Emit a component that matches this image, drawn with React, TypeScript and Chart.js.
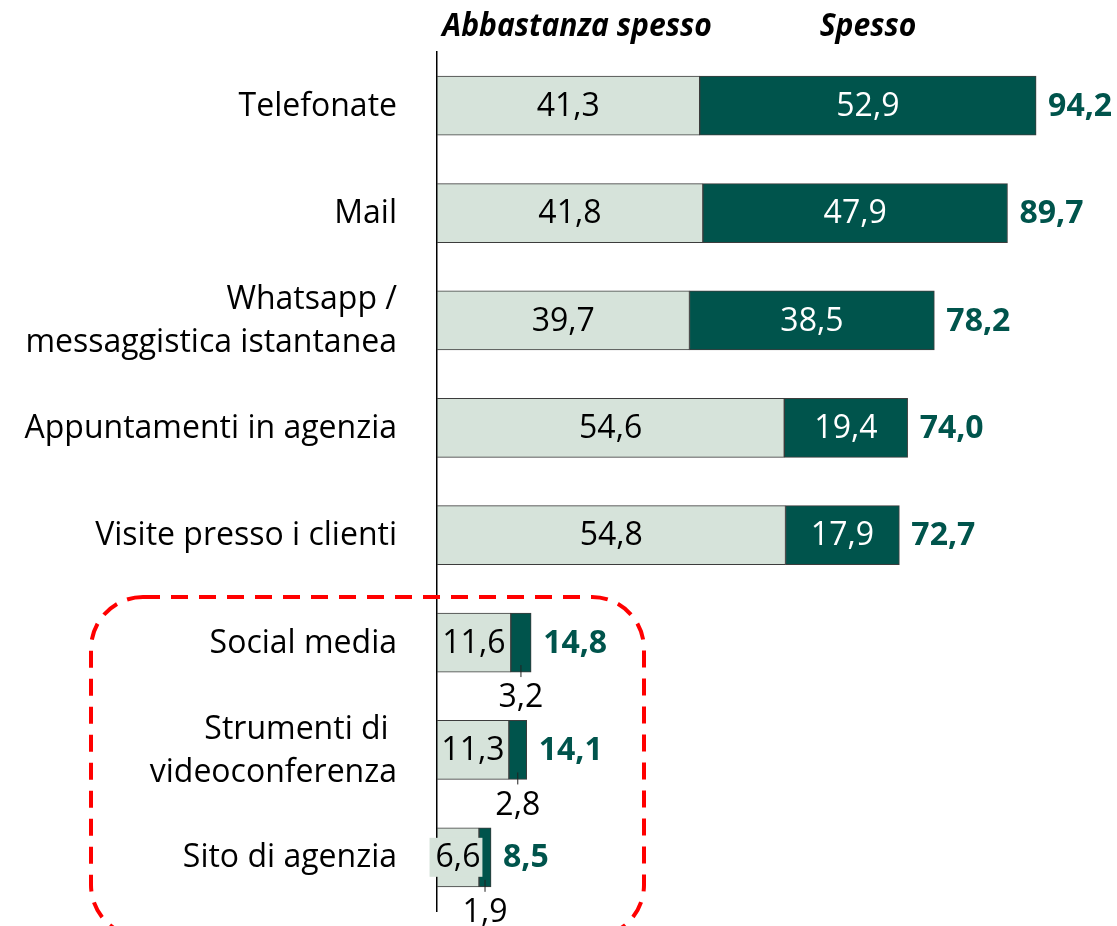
import { useEffect, useRef } from "react";
import { Chart, registerables } from "chart.js";

Chart.register(...registerables);

const categories: string[][] = [
  ["Telefonate"],
  ["Mail"],
  ["Whatsapp /", "messaggistica istantanea"],
  ["Appuntamenti in agenzia"],
  ["Visite presso i clienti"],
  ["Social media"],
  ["Strumenti di ", "videoconferenza"],
  ["Sito di agenzia"],
];
const seriesNames = ["Abbastanza spesso", "Spesso"];
const abbastanzaSpesso = [41.3, 41.8, 39.7, 54.6, 54.8, 11.6, 11.3, 6.6];
const spesso = [52.9, 47.9, 38.5, 19.4, 17.9, 3.2, 2.8, 1.9];
const totals = [94.2, 89.7, 78.2, 74.0, 72.7, 14.8, 14.1, 8.5];

const LIGHT = "#d6e3da";
const DARK = "#00544c";
const FONT = '"Open Sans", sans-serif';

const fmt = (v: number) => v.toFixed(1).replace(".", ",");

function drawScaled(ctx: CanvasRenderingContext2D, text: string, x: number, y: number, sx: number) {
  ctx.save();
  ctx.translate(x, y);
  ctx.scale(sx, 1);
  ctx.fillText(text, 0, 0);
  ctx.restore();
}

const labelPlugin = {
  id: "valueLabels",
  afterDatasetsDraw(chart: any) {
    const ctx: CanvasRenderingContext2D = chart.ctx;
    const m0 = chart.getDatasetMeta(0);
    const m1 = chart.getDatasetMeta(1);
    const yScale = chart.scales.y;
    ctx.save();
    ctx.textBaseline = "middle";
    // category labels
    ctx.font = `32px ${FONT}`;
    ctx.fillStyle = "#000";
    ctx.textAlign = "right";
    const lh = 43;
    categories.forEach((lines, i) => {
      const cy = yScale.getPixelForValue(i);
      const start = cy - ((lines.length - 1) * lh) / 2;
      lines.forEach((ln, k) => ctx.fillText(ln, yScale.right - 40, start + k * lh + 1));
    });
    for (let i = 0; i < categories.length; i++) {
      const b0 = m0.data[i];
      const b1 = m1.data[i];
      const y = b0.y;
      const h = b0.height;
      // light segment label
      ctx.font = `32px ${FONT}`;
      const t0 = fmt(abbastanzaSpesso[i]);
      const w0 = ctx.measureText(t0).width;
      const cx0 = (b0.base + b0.x) / 2;
      if (w0 + 6 > b0.x - b0.base) {
        ctx.fillStyle = LIGHT;
        ctx.fillRect(cx0 - w0 / 2 - 6, y - 19.5, w0 + 8, 39);
      }
      ctx.fillStyle = "#000";
      ctx.textAlign = "center";
      ctx.fillText(t0, cx0, y + 1);
      // dark segment label
      const t1 = fmt(spesso[i]);
      const w1 = ctx.measureText(t1).width;
      const cx1 = (b1.base + b1.x) / 2;
      if (w1 + 8 <= b1.x - b1.base) {
        ctx.fillStyle = "#fff";
        ctx.fillText(t1, cx1, y + 1);
      } else {
        const bottom = y + h / 2;
        ctx.strokeStyle = "#222";
        ctx.lineWidth = 1;
        ctx.beginPath();
        ctx.moveTo(cx1, bottom - 7);
        ctx.lineTo(cx1, bottom + 5);
        ctx.stroke();
        ctx.fillStyle = "#000";
        ctx.fillText(t1, cx1, bottom + 26);
      }
      // total label
      ctx.font = `bold 32px ${FONT}`;
      ctx.fillStyle = DARK;
      ctx.textAlign = "left";
      ctx.fillText(fmt(totals[i]), b1.x + 12, y + 1);
    }
    // headers
    ctx.font = `italic bold 32px ${FONT}`;
    ctx.fillStyle = "#000";
    ctx.textAlign = "center";
    drawScaled(ctx, seriesNames[0], 577, 27, 0.94);
    drawScaled(ctx, seriesNames[1], 868, 27, 0.94);
    ctx.restore();
  },
  afterDraw(chart: any) {
    const ctx: CanvasRenderingContext2D = chart.ctx;
    ctx.save();
    ctx.strokeStyle = "#ff0000";
    ctx.lineWidth = 4;
    ctx.setLineDash([17, 11]);
    ctx.beginPath();
    (ctx as any).roundRect(91, 597, 553, 340, 52);
    ctx.stroke();
    ctx.restore();
  },
};

export default function App() {
  const ref = useRef<HTMLCanvasElement | null>(null);
  useEffect(() => {
    if (!ref.current) return;
    const chart = new Chart(ref.current, {
      type: "bar",
      data: {
        labels: categories.map((c) => c.join(" ")),
        datasets: [
          {
            label: seriesNames[0],
            data: abbastanzaSpesso,
            backgroundColor: LIGHT,
            borderColor: "#3c3c3c",
            borderWidth: 1,
            borderSkipped: false,
            barThickness: 59,
          },
          {
            label: seriesNames[1],
            data: spesso,
            backgroundColor: DARK,
            borderColor: "#3c3c3c",
            borderWidth: 1,
            borderSkipped: false,
            barThickness: 59,
          },
        ],
      },
      options: {
        indexAxis: "y",
        responsive: false,
        animation: false,
        layout: { padding: { top: 52, bottom: 15, right: 44, left: 0 } },
        plugins: { legend: { display: false }, tooltip: { enabled: false } },
        scales: {
          x: { stacked: true, min: 0, max: 100, display: false },
          y: {
            stacked: true,
            grid: { display: false, drawTicks: false },
            border: { display: true, color: "#000", width: 1.5 },
            ticks: { display: false },
            afterFit: (s: any) => {
              s.width = 437;
            },
          },
        },
      },
      plugins: [labelPlugin],
    } as any);
    return () => chart.destroy();
  }, []);
  return (
    <div style={{ position: "fixed", left: 0, top: 0, width: 1117, height: 926, background: "#fff" }}>
      <canvas ref={ref} width={1117} height={926} style={{ width: 1117, height: 926 }} />
    </div>
  );
}
